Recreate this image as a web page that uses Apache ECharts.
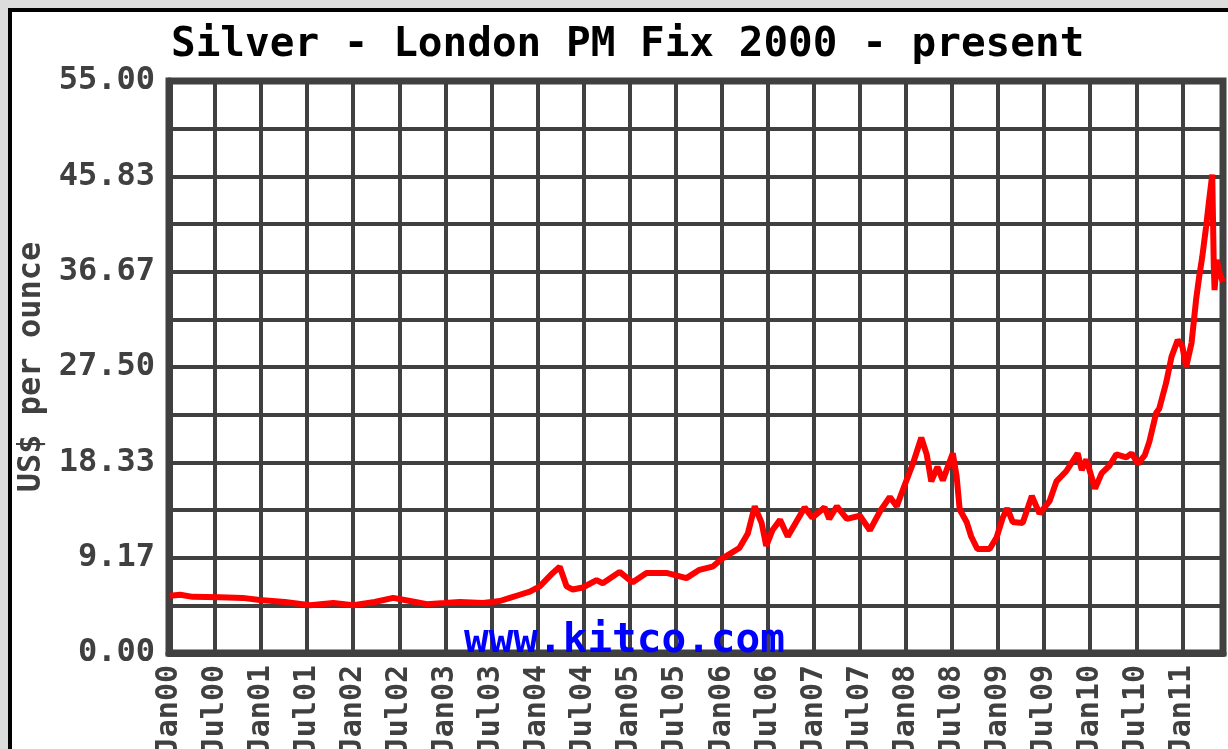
<!DOCTYPE html>
<html>
<head>
<meta charset="utf-8">
<script src="https://cdn.jsdelivr.net/npm/echarts@6/dist/echarts.min.js"></script>
<style>
  html, body { margin: 0; padding: 0; width: 1228px; height: 749px; overflow: hidden; background: #dcdcdc; }
  #panel { position: absolute; left: 8px; top: 8px; width: 1400px; height: 900px; background: #fff; border: 4px solid #000; }
  #chart { position: absolute; left: 0; top: 0; width: 1228px; height: 749px; }
</style>
</head>
<body>
<div id="panel"></div>
<div id="chart"></div>
<script>
const titleText = 'Silver - London PM Fix 2000 - present';
const yAxisName = 'US$ per ounce';
const watermark = 'www.kitco.com';

const xTickLabels = ['Jan00','Jul00','Jan01','Jul01','Jan02','Jul02','Jan03','Jul03','Jan04','Jul04',
  'Jan05','Jul05','Jan06','Jul06','Jan07','Jul07','Jan08','Jul08','Jan09','Jul09','Jan10','Jul10','Jan11'];
const yTickLabels = ['0.00','9.17','18.33','27.50','36.67','45.83','55.00'];

const dates = [
  '2000-01-05','2000-02-15','2000-04-04','2000-07-19','2000-10-19','2000-12-25',
  '2001-04-04','2001-07-13','2001-10-13',
  '2002-01-01','2002-03-25','2002-06-07','2002-08-13','2002-10-19','2002-12-28',
  '2003-02-28','2003-05-28','2003-08-04','2003-09-13','2003-10-22','2003-12-01',
  '2004-01-10','2004-03-01','2004-03-28','2004-04-25','2004-05-19','2004-06-28','2004-08-22','2004-09-16','2004-11-22',
  '2005-01-13','2005-03-07','2005-05-25','2005-08-13','2005-10-04','2005-11-25',
  '2006-01-04','2006-03-10','2006-04-13','2006-05-10','2006-06-07','2006-06-25','2006-07-19','2006-08-19','2006-09-19','2006-11-25','2006-12-25',
  '2007-02-13','2007-03-01','2007-04-01','2007-05-10','2007-07-01','2007-08-10','2007-09-19','2007-10-28','2007-11-25','2007-12-19',
  '2008-01-28','2008-03-01','2008-03-22','2008-04-10','2008-05-04','2008-05-25','2008-06-13','2008-07-04','2008-07-19','2008-08-01','2008-08-28','2008-09-16','2008-10-10','2008-11-28','2008-12-25',
  '2009-01-19','2009-02-07','2009-02-28','2009-04-07','2009-05-13','2009-06-13','2009-07-22','2009-08-19','2009-09-28','2009-11-12','2009-11-28','2009-12-16',
  '2010-01-20','2010-02-16','2010-03-16','2010-04-13','2010-05-22','2010-06-13','2010-07-07','2010-08-04','2010-08-22','2010-09-19','2010-10-01','2010-10-28','2010-11-19','2010-12-13',
  '2011-01-01','2011-01-16','2011-02-07','2011-02-25','2011-03-07','2011-03-19','2011-04-04','2011-04-16','2011-04-28','2011-05-04','2011-05-07','2011-05-16','2011-05-28','2011-06-10'
];
const prices = [
  5.5, 5.6, 5.4, 5.35, 5.3, 5.1,
  4.9, 4.6, 4.8,
  4.6, 4.9, 5.3, 5.0, 4.7, 4.8,
  4.9, 4.8, 5.0, 5.3, 5.6, 5.9,
  6.4, 7.7, 8.3, 6.4, 6.1, 6.3, 7.0, 6.7, 7.8,
  6.8, 7.7, 7.7, 7.2, 8.0, 8.3,
  9.1, 10.1, 11.5, 14.1, 12.5, 10.3, 11.8, 12.8, 11.2, 14.0, 13.0,
  14.0, 12.9, 14.1, 12.9, 13.2, 11.8, 13.6, 15.0, 14.1, 15.7,
  18.2, 20.7, 19.1, 16.5, 17.9, 16.6, 17.8, 19.2, 17.0, 13.8, 12.6, 11.2, 10.0, 10.0, 11.1,
  13.0, 13.9, 12.6, 12.5, 15.1, 13.4, 14.6, 16.5, 17.5, 19.2, 17.6, 18.6,
  15.8, 17.3, 18.0, 19.1, 18.8, 19.2, 18.2, 19.0, 20.3, 23.1, 23.5, 26.0, 28.5, 30.1,
  29.5, 27.5, 29.8, 34.0, 36.2, 38.1, 41.0, 43.6, 46.0, 37.2, 34.9, 37.8, 36.4, 35.7
];

function monthIndex(s) {
  const p = s.split('-').map(Number);
  return (p[0] - 2000) * 12 + (p[1] - 1) + (p[2] - 1) / 30;
}
const seriesData = dates.map((d, i) => [monthIndex(d), prices[i]]);
const yStep = 55 / 12;

const chart = echarts.init(document.getElementById('chart'));
const gridColor = '#404040';
const font = '"DejaVu Sans Mono", monospace';

chart.setOption({
  backgroundColor: 'transparent',
  animation: false,
  title: {
    text: titleText,
    left: 166,
    top: 20,
    textStyle: { fontFamily: font, fontWeight: 'bold', fontSize: 41, color: '#000' }
  },
  grid: {
    left: 169, right: 5, top: 81, bottom: 96,
    outerBoundsMode: 'none',
    containLabel: false,
    show: true, borderColor: gridColor, borderWidth: 7, backgroundColor: 'transparent'
  },
  xAxis: {
    type: 'value',
    min: 0,
    max: 137.3,
    interval: 6,
    axisLine: { show: true, lineStyle: { color: gridColor, width: 7 } },
    axisTick: { show: false },
    splitLine: { show: true, lineStyle: { color: gridColor, width: 4 } },
    axisLabel: {
      rotate: 90,
      margin: 12,
      fontFamily: font, fontWeight: 'bold', fontSize: 30, color: gridColor,
      showMaxLabel: false,
      formatter: function (v) {
        const i = Math.round(v / 6);
        if (Math.abs(v - i * 6) > 0.01) return '';
        return xTickLabels[i] || '';
      }
    }
  },
  yAxis: {
    type: 'value',
    min: 0,
    max: 55,
    interval: yStep,
    name: yAxisName,
    nameLocation: 'middle',
    nameGap: 120,
    nameRotate: 90,
    nameTextStyle: { fontFamily: font, fontWeight: 'bold', fontSize: 32, color: gridColor },
    axisLine: { show: true, lineStyle: { color: gridColor, width: 7 } },
    axisTick: { show: false },
    splitLine: { show: true, lineStyle: { color: gridColor, width: 4 } },
    axisLabel: {
      margin: 14,
      fontFamily: font, fontWeight: 'bold', fontSize: 32, color: gridColor,
      formatter: function (v) {
        const i = Math.round(v / yStep);
        if (Math.abs(v - i * yStep) > 0.01) return '';
        return i % 2 === 0 ? (yTickLabels[i / 2] || '') : '';
      }
    }
  },
  graphic: [{
    type: 'text',
    z: 50,
    left: 464,
    top: 621,
    style: {
      text: watermark,
      fill: '#0000ff',
      font: 'bold 41px "DejaVu Sans Mono", monospace'
    }
  }],
  series: [{
    type: 'line',
    data: seriesData,
    showSymbol: false,
    symbol: 'none',
    z: 10,
    lineStyle: { color: '#ff0000', width: 6 }
  }]
});
</script>
</body>
</html>
